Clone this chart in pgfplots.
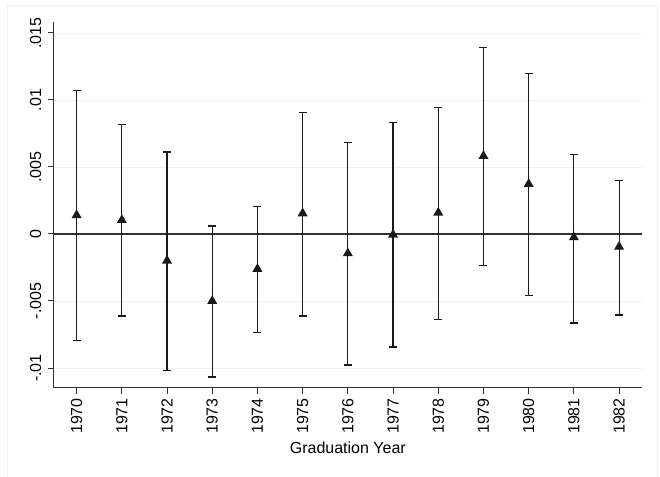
\documentclass[border=0pt]{standalone}
\usepackage{fontspec}
\setmainfont{Liberation Sans}
\usepackage{pgfplots}
\usepackage{pgfplotstable}
\pgfplotsset{compat=1.18}
\definecolor{gridc}{HTML}{EAF2F3}
\definecolor{axc}{HTML}{333333}
\definecolor{barc}{HTML}{1A1A1A}
\pgfplotstableread{
x     y        lo        hi
1970  0.00140  -0.00796  0.01069
1971  0.00104  -0.00612  0.00819
1972  -0.00199 -0.01020  0.00612
1973  -0.00500 -0.01067  0.00060
1974  -0.00261 -0.00734  0.00204
1975  0.00154  -0.00612  0.00908
1976  -0.00144 -0.00978  0.00681
1977  -0.00005 -0.00843  0.00831
1978  0.00159  -0.00637  0.00945
1979  0.00582  -0.00234  0.01390
1980  0.00373  -0.00460  0.01199
1981  -0.00025 -0.00664  0.00595
1982  -0.00095 -0.00604  0.00401
}\datatab
\begin{document}
\fontsize{16bp}{19bp}\selectfont
\begin{tikzpicture}
\path[use as bounding box] (0,0) rectangle (660bp,477bp);
\draw[gridc, line width=0.8bp] (7bp,-5bp) rectangle (657bp,471.3bp);
\begin{axis}[
  at={(54bp,89.3bp)}, anchor=south west,
  scale only axis, width=587.7bp, height=365.7bp,
  xmin=1969.5, xmax=1982.5,
  ymin=-0.01147, ymax=0.01582,
  axis x line*=bottom, axis y line*=left,
  axis line style={axc, line width=1bp, -},
  tick align=outside, major tick length=6bp,
  tick style={axc, line width=1bp},
  xtick={1970,1971,...,1982},
  xticklabels={1970,1971,1972,1973,1974,1975,1976,1977,1978,1979,1980,1981,1982},
  ytick={-0.01,-0.005,0,0.005,0.01,0.015},
  yticklabels={-.01,-.005,0,.005,.01,.015},
  scaled y ticks=false,
  xticklabel style={rotate=90, anchor=east, inner sep=0pt, font=\fontsize{16bp}{19bp}\selectfont},
  yticklabel style={rotate=90, anchor=base, inner sep=0pt, font=\fontsize{16bp}{19bp}\selectfont},
  xticklabel shift=4.3bp, yticklabel shift=7bp,
  ymajorgrids, grid style={gridc, line width=0.8bp},
  xlabel={Graduation Year},
  xlabel style={font=\fontsize{16bp}{19bp}\selectfont, anchor=base, at={(axis description cs:0.5,-0.1786)}},
  clip=false,
]
\addplot[axc, line width=1.6bp, forget plot] coordinates {(1969.5,0) (1982.5,0)};
\addplot[barc, only marks, mark=triangle*, mark size=4.6bp, line width=1.2bp,
  error bars/.cd, y dir=both, y explicit,
  error bar style={barc, line width=1.2bp},
  error mark options={rotate=90, mark size=4bp, line width=1.2bp, barc}]
  table[x=x, y=y, y error plus expr=\thisrow{hi}-\thisrow{y}, y error minus expr=\thisrow{y}-\thisrow{lo}] {\datatab};
\end{axis}
\end{tikzpicture}
\end{document}
